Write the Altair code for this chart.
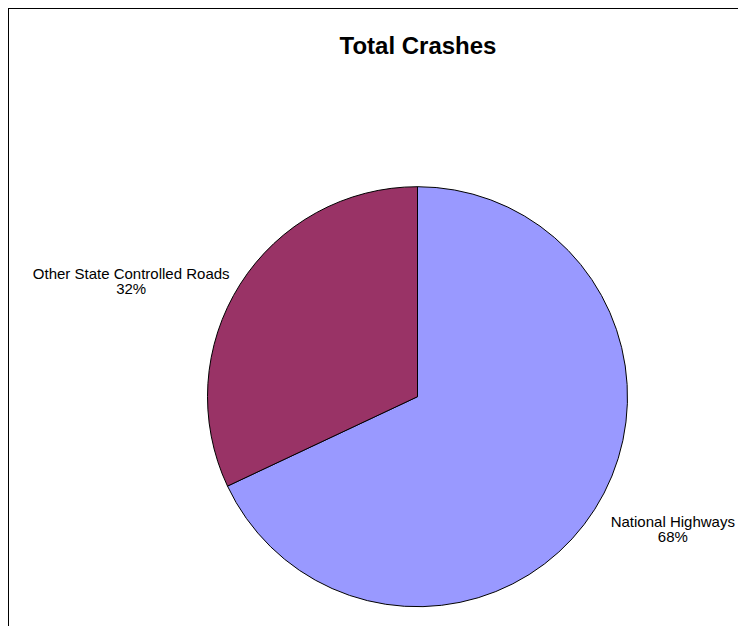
import altair as alt
import pandas as pd

categories = ["National Highways", "Other State Controlled Roads"]
shares = [68, 32]
colors = ["#9999FF", "#993366"]
title_text = "Total Crashes"

W, H = 730, 618
CX, CY, R = 409.5, 388.7, 210

df = pd.DataFrame({"category": categories, "share": shares})
df["label"] = [f"{c}\n{v}%" for c, v in zip(categories, shares)]

pie = alt.Chart(df).mark_arc(radius=R, stroke="black", strokeWidth=1).encode(
    theta=alt.Theta("share:Q", stack=True),
    order=alt.Order("category:N", sort="ascending"),
    x=alt.value(CX),
    y=alt.value(CY),
    color=alt.Color("category:N", scale=alt.Scale(domain=categories, range=colors), legend=None),
)

lab_base = alt.Chart(df).transform_stack(
    stack="share", as_=["s0", "s1"], groupby=[], sort=[alt.SortField("category", order="ascending")]
).transform_joinaggregate(total="sum(share)").transform_calculate(
    frac="(datum.s0 + datum.s1) / 2 / datum.total"
).encode(
    theta=alt.Theta("frac:Q", scale=alt.Scale(domain=[0, 1]), stack=None),
    x=alt.value(CX),
    y=alt.value(CY),
    text="label:N",
)

lab_kw = dict(radius=300, font="Liberation Sans", fontSize=15, lineBreak="\n",
              lineHeight=15, align="center", baseline="middle", color="black")
lab_other = lab_base.mark_text(dx=-33, dy=38, **lab_kw).transform_filter(
    alt.datum.category == categories[1])
lab_nh = lab_base.mark_text(dx=2, dy=-35, **lab_kw).transform_filter(
    alt.datum.category == categories[0])
labels = alt.layer(lab_other, lab_nh)

title = alt.Chart(pd.DataFrame({"t": [title_text]})).mark_text(
    font="Liberation Sans", fontSize=24, fontWeight="bold", align="center", baseline="alphabetic", color="black"
).encode(text="t:N", x=alt.value(410), y=alt.value(46))

border_left = alt.Chart(pd.DataFrame({"a": [0]})).mark_rule(color="black", strokeWidth=2).encode(
    x=alt.value(0), y=alt.value(0), y2=alt.value(H))
border_top = alt.Chart(pd.DataFrame({"a": [0]})).mark_rule(color="black", strokeWidth=2).encode(
    x=alt.value(0), x2=alt.value(W), y=alt.value(0))

chart = alt.layer(pie, labels, title, border_left, border_top).resolve_scale(
    theta="independent"
).properties(
    width=W, height=H, autosize=alt.AutoSizeParams(type="none"), padding=0,
    background="white",
).configure_view(strokeWidth=0)

chart.save("out.html", embed_options={"renderer": "svg", "actions": False})
